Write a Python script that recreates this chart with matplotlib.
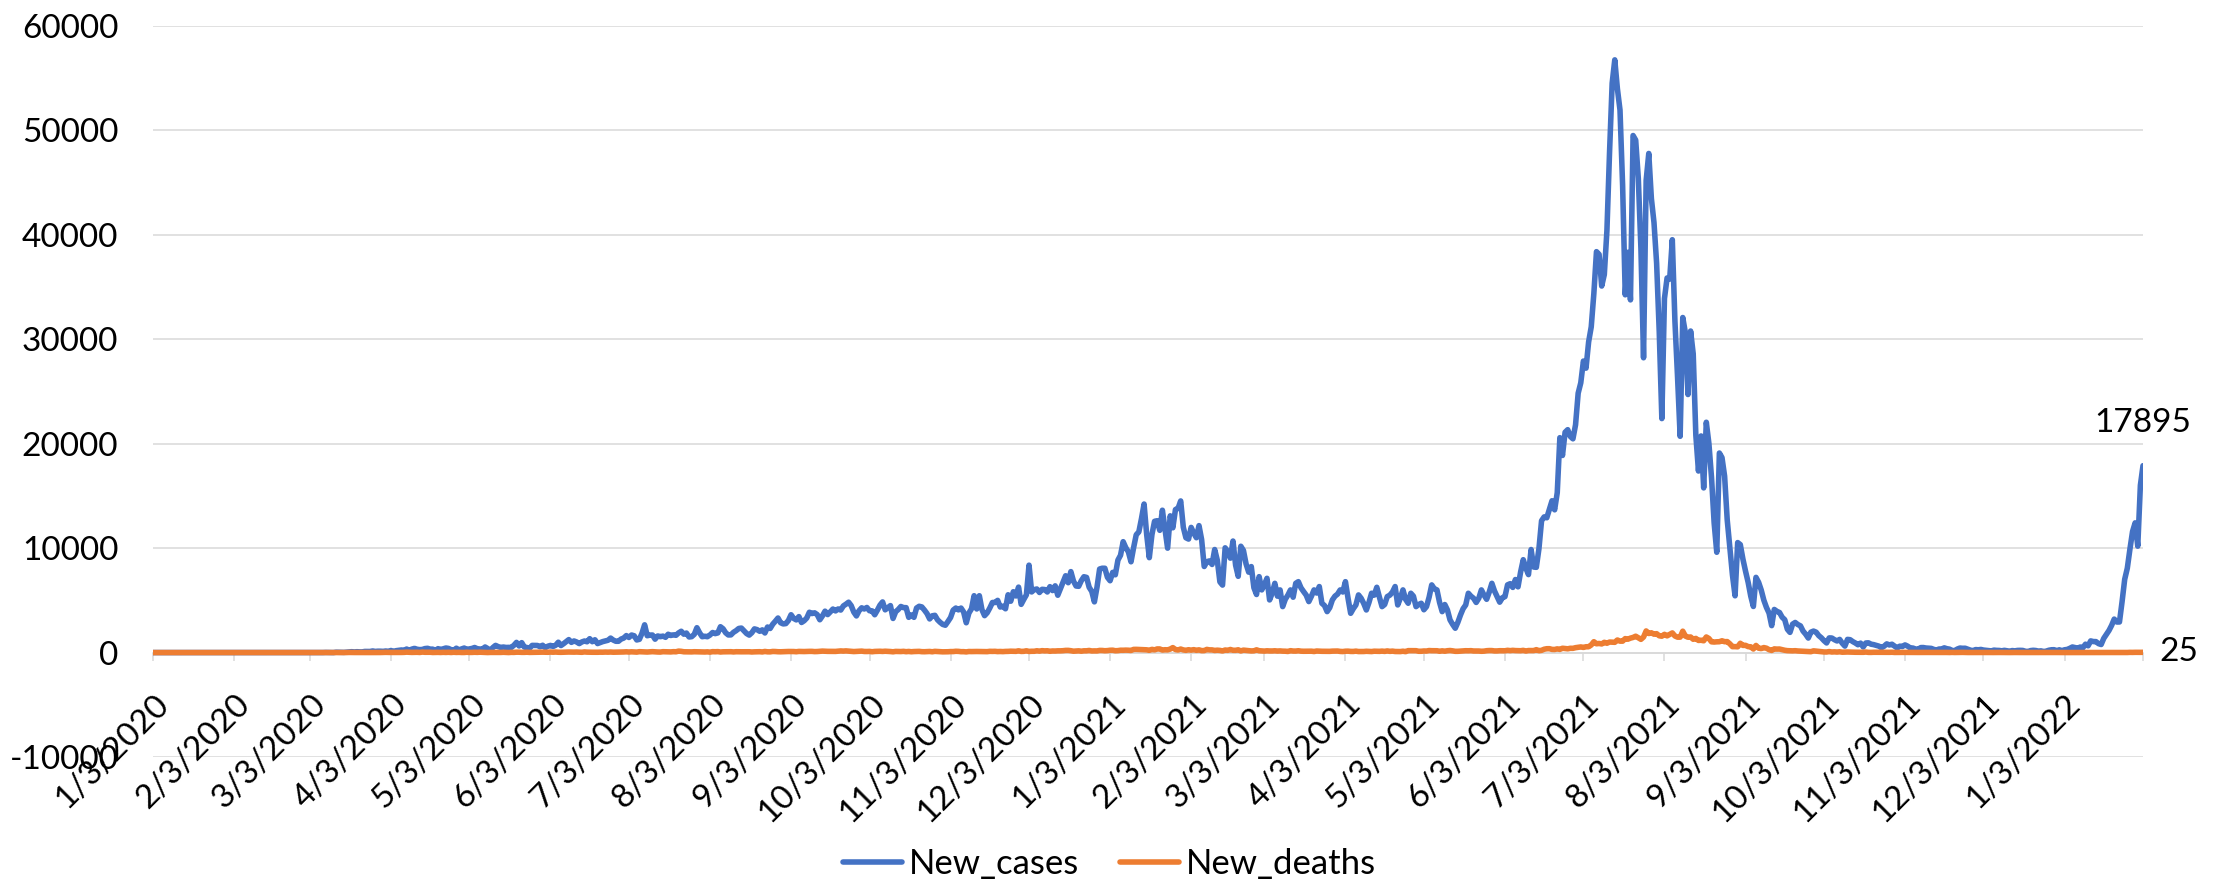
import matplotlib.pyplot as plt
import pandas as pd

# daily values, 3 Jan 2020 .. 2 Feb 2022 (one line per month)
cases_2020 = (
    [0] * 29 +  # Jan 3-31
    [0] * 29 +  # Feb
    [0, 2, 0, 0, 0, 2, 0, 2, 13, 8, 7, 0, 35, 27, 21, 17, 38, 55, 82, 60, 81, 64, 65, 107, 105, 103, 153, 109, 130, 129, 114] +
    [149, 113, 196, 106, 181, 218, 247, 218, 337, 219, 330, 399, 316, 282, 297, 380, 407, 325, 327, 185, 375, 283, 357, 436, 396, 275, 214, 415, 260, 347] +
    [433, 292, 349, 395, 484, 367, 338, 336, 533, 387, 233, 484, 689, 568, 490, 529, 489, 496, 486, 693, 973, 634, 949, 526, 479, 415, 686, 687, 678, 557, 700] +
    [467, 609, 684, 585, 703, 993, 672, 847, 1043, 1241, 979, 1111, 1014, 857, 1017, 1106, 1031, 1331, 1041, 1226, 862, 954, 1051, 1113, 1178, 1385, 1198, 1082, 1082, 1293] +
    [1385, 1624, 1447, 1681, 1607, 1209, 1268, 1853, 2657, 1611, 1671, 1681, 1282, 1591, 1522, 1574, 1462, 1752, 1639, 1693, 1655, 1882, 2040, 1761, 1868, 1492, 1525, 1748, 2381, 1904, 1519] +
    [1560, 1519, 1679, 1922, 1815, 1882, 2473, 2277, 1893, 1687, 1693, 1942, 2098, 2307, 2345, 2081, 1821, 1673, 1902, 2266, 2197, 2037, 2173, 1877, 2447, 2306, 2719, 3003, 3308, 2858, 2743] +
    [2775, 3075, 3622, 3269, 3128, 3444, 2880, 3046, 3307, 3861, 3737, 3806, 3636, 3141, 3507, 3963, 3635, 3891, 4168, 3989, 4176, 4071, 4465, 4634, 4823, 4494, 3874, 3509, 4002, 4284] +
    [4174, 4317, 4007, 3992, 3622, 4056, 4538, 4850, 4094, 4294, 4497, 3267, 3906, 4127, 4411, 4301, 4301, 3373, 3602, 3373, 4267, 4432, 4369, 4070, 3732, 3222, 3520, 3565, 3143, 2897, 2696] +
    [2618, 2973, 3356, 4065, 4262, 4089, 4262, 3880, 2853, 3779, 4192, 5444, 4173, 5444, 4106, 3535, 3807, 4265, 4798, 4792, 4998, 4360, 4442, 4192, 5534, 4917, 5828, 5418, 6267, 4617] +
    [5092, 5533, 8369, 5803, 6027, 6089, 5754, 6058, 6033, 5803, 6310, 5938, 6388, 5489, 6120, 6725, 7354, 6689, 7751, 6848, 6371, 6347, 6883, 7259, 7199, 6251, 5854, 4854, 6267, 8002, 8074]
)

cases_2021 = (
    [8072, 7203, 6877, 7679, 7445, 8854, 9321, 10617, 10046, 9640, 8692, 10047, 11278, 11557, 12818, 14224, 11287, 9086, 11287, 12568, 12624, 11703, 13632, 11788, 9994, 13094, 11948, 13695, 13802, 14518, 12001] +
    [10994, 10868, 11984, 11434, 10997, 12156, 10827, 8242, 8700, 8776, 8435, 9869, 8844, 6765, 6462, 10029, 9687, 9039, 10680, 8369, 7300, 10180, 9775, 8493, 7700, 8232, 6208, 5560] +
    [7270, 6000, 6500, 7110, 5040, 5700, 6630, 5400, 6000, 4400, 5100, 5500, 6000, 5300, 6630, 6790, 6200, 5840, 5500, 4880, 5400, 6000, 5700, 6320, 4720, 4500, 3920, 4300, 5040, 5400, 5600] +
    [6000, 5800, 6790, 5200, 3760, 4200, 4560, 5520, 5200, 4700, 4080, 4800, 5680, 5500, 6250, 5300, 4400, 4600, 5360, 5500, 5800, 6320, 4560, 5200, 6000, 5100, 4720, 5680, 5400, 4400] +
    [4600, 4720, 4100, 4400, 5300, 6480, 6100, 6000, 4800, 3920, 4600, 4080, 3130, 2700, 2330, 2900, 3600, 4200, 4560, 5680, 5400, 5200, 4800, 5200, 6000, 5500, 5100, 5800, 6630, 5900, 5360] +
    [4824, 5246, 5353, 6486, 6594, 6236, 6993, 6294, 7725, 8892, 8083, 7465, 9868, 8189, 8161, 9944, 12624, 12990, 12906, 13737, 14536, 13668, 15308, 20574, 18872, 21095, 21342, 20694, 20467, 21807] +
    [24836, 25830, 27913, 27233, 29745, 31189, 34379, 38391, 38124, 35094, 36197, 40427, 47899, 54517, 56757, 54000, 51952, 44721, 34257, 38325, 33772, 49509, 49071, 45416, 38679, 28228, 45203, 47791, 43479, 41168, 37284] +
    [30738, 22404, 33900, 35867, 35764, 39532, 31753, 26415, 20709, 32081, 30625, 24709, 30788, 28598, 20813, 17384, 20741, 15768, 22053, 20004, 16744, 12408, 9604, 19106, 18671, 16899, 12702, 10050, 7427, 5436, 10534] +
    [10337, 8955, 7797, 6727, 5403, 4413, 7201, 6731, 5990, 5020, 4323, 3779, 2577, 4128, 3948, 3835, 3385, 3145, 2234, 1932, 2720, 2881, 2684, 2557, 2057, 1760, 1390, 1954, 2057, 1954] +
    [1624, 1414, 1142, 922, 1404, 1393, 1233, 1111, 1261, 894, 620, 1261, 1233, 1053, 915, 747, 903, 535, 914, 935, 802, 760, 689, 615, 460, 610, 833, 730, 798, 617, 433] +
    [612, 582, 733, 612, 438, 433, 343, 306, 477, 480, 435, 420, 400, 305, 242, 338, 344, 450, 369, 328, 203, 176, 337, 432, 408, 413, 328, 232, 176, 286] +
    [264, 298, 241, 213, 180, 159, 233, 209, 202, 168, 213, 172, 129, 190, 163, 204, 211, 202, 128, 92, 187, 216, 196, 135, 164, 92, 139, 222, 267, 274, 173]
)

cases_2022 = (
    [265, 174, 265, 299, 404, 533, 479, 414, 529, 454, 802, 646, 1116, 1054, 1048, 855, 772, 1362, 1745, 2116, 2604, 3205, 2925, 2928, 4878, 7010, 8077, 9905, 11588, 12422, 10185] +
    [16021, 17895]
)

deaths_2020 = (
    [0] * 29 +
    [0] * 29 +
    [0, 0, 0, 0, 0, 0, 0, 0, 0, 0, 1, 0, 3, 1, 1, 0, 2, 12, 6, 6, 7, 10, 1, 6, 3, 3, 2, 9, 8, 6, 14] +
    [21, 13, 11, 10, 7, 7, 12, 19, 40, 26, 15, 20, 26, 10, 47, 27, 31, 29, 8, 12, 19, 8, 23, 12, 26, 7, 29, 13, 21, 8] +
    [8, 31, 13, 15, 28, 18, 35, 21, 10, 3, 14, 14, 16, 21, 13, 27, 12, 2, 21, 16, 36, 35, 21, 21, 34, 16, 21, 23, 27, 39, 40] +
    [32, 28, 48, 35, 49, 31, 25, 35, 41, 51, 41, 41, 50, 38, 27, 61, 41, 33, 31, 30, 29, 39, 35, 48, 38, 51, 34, 39, 46, 51] +
    [56, 71, 52, 71, 58, 43, 84, 70, 50, 51, 71, 87, 70, 54, 47, 84, 76, 65, 62, 85, 76, 139, 117, 74, 69, 67, 64, 80, 74, 74, 63] +
    [54, 68, 42, 86, 78, 90, 53, 72, 74, 73, 82, 59, 81, 74, 74, 74, 79, 77, 55, 69, 72, 82, 59, 106, 71, 68, 106, 99, 79, 74, 85] +
    [95, 103, 104, 98, 79, 110, 101, 97, 111, 115, 114, 92, 99, 118, 140, 125, 116, 111, 112, 110, 136, 157, 140, 160, 142, 115, 96, 110, 128, 139] +
    [105, 102, 112, 79, 108, 116, 124, 108, 128, 116, 99, 72, 110, 100, 97, 117, 84, 106, 78, 98, 107, 114, 85, 80, 89, 105, 75, 116, 99, 91, 70] +
    [69, 78, 95, 95, 123, 114, 85, 86, 63, 101, 95, 104, 104, 101, 100, 100, 87, 118, 111, 118, 93, 104, 91, 109, 114, 130, 118, 116, 169, 110] +
    [118, 169, 109, 124, 124, 171, 135, 181, 159, 171, 125, 152, 146, 165, 164, 178, 207, 209, 177, 130, 148, 165, 131, 167, 166, 202, 152, 160, 156, 205, 200]
)

deaths_2021 = (
    [174, 188, 220, 227, 175, 187, 224, 221, 233, 224, 200, 302, 306, 295, 282, 270, 262, 212, 308, 258, 346, 346, 240, 270, 259, 336, 476, 287, 248, 336, 253] +
    [214, 271, 230, 279, 215, 262, 185, 188, 301, 257, 254, 202, 228, 206, 154, 245, 215, 293, 218, 216, 264, 157, 233, 204, 180, 156, 166, 261] +
    [175, 153, 140, 168, 152, 151, 169, 144, 158, 136, 130, 106, 180, 144, 142, 173, 134, 124, 127, 131, 132, 100, 148, 130, 122, 123, 127, 116, 137, 141, 146] +
    [110, 97, 130, 135, 109, 106, 137, 98, 100, 101, 123, 105, 97, 130, 125, 116, 138, 111, 157, 117, 138, 102, 101, 95, 129, 87, 184, 183, 192, 179] +
    [124, 125, 151, 145, 193, 178, 176, 174, 125, 165, 130, 175, 196, 164, 120, 121, 138, 145, 176, 170, 182, 149, 152, 147, 124, 136, 177, 193, 189, 155, 156] +
    [177, 172, 171, 214, 184, 212, 189, 178, 176, 211, 145, 194, 187, 189, 276, 180, 214, 319, 367, 371, 303, 294, 355, 304, 413, 384, 358, 409, 404, 467] +
    [504, 539, 493, 555, 558, 728, 1040, 842, 871, 826, 982, 892, 1007, 991, 982, 1205, 1092, 1093, 1338, 1280, 1383, 1449, 1566, 1415, 1266, 1487, 2069, 1824, 1893, 1759, 1808] +
    [1604, 1568, 1747, 1598, 1739, 1881, 1588, 1475, 1475, 2048, 1579, 1466, 1492, 1270, 1356, 1161, 1180, 1128, 1492, 1348, 1030, 1008, 1030, 1038, 1128, 1040, 1051, 840, 566, 568, 551] +
    [890, 685, 694, 568, 551, 339, 683, 421, 379, 476, 419, 278, 204, 351, 331, 338, 276, 219, 183, 172, 163, 178, 151, 136, 129, 115, 93, 84, 164, 137] +
    [100, 77, 59, 54, 95, 53, 67, 48, 73, 35, 45, 53, 43, 39, 30, 31, 23, 25, 48, 19, 16, 28, 26, 24, 18, 22, 14, 22, 31, 12, 16] +
    [10, 17, 15, 21, 13, 13, 11, 11, 14, 18, 13, 11, 11, 11, 12, 8, 11, 16, 12, 5, 16, 7, 11, 12, 18, 11, 6, 8, 10, 8] +
    [13, 13, 9, 7, 7, 5, 6, 10, 10, 6, 9, 4, 3, 8, 9, 5, 6, 9, 6, 5, 6, 5, 6, 7, 3, 9, 9, 4, 6, 6, 8]
)

deaths_2022 = (
    [4, 3, 3, 2, 3, 3, 6, 8, 4, 3, 4, 5, 6, 8, 3, 5, 3, 6, 6, 7, 7, 8, 7, 2, 17, 17, 7, 20, 16, 23, 17] +
    [21, 25]
)

new_cases = cases_2020 + cases_2021 + cases_2022
new_deaths = deaths_2020 + deaths_2021 + deaths_2022
dates = pd.date_range('2020-01-03', periods=len(new_cases), freq='D')

y_ticks = list(range(-10000, 60001, 10000))
tick_dates = pd.date_range('2020-01-03', '2022-01-03', freq=pd.DateOffset(months=1))

plt.rcParams['font.family'] = ['Lato', 'DejaVu Sans']
plt.rcParams['axes.unicode_minus'] = False
FS = 24
GRID = '#D9D9D9'

fig = plt.figure(figsize=(22.19, 8.86), dpi=100)
ax = fig.add_axes([0.06895, 0.1456, 0.8968, 0.8251])

ax.plot(dates, new_cases, color='#4472C4', lw=4.0, solid_joinstyle='round',
        solid_capstyle='round', label='New_cases', zorder=3)
ax.plot(dates, new_deaths, color='#ED7D31', lw=4.0, solid_joinstyle='round',
        solid_capstyle='round', label='New_deaths', zorder=4)

ax.set_xlim(dates[0], dates[-1])
ax.set_ylim(-10000, 60000)
ax.set_yticks(y_ticks)
ax.yaxis.grid(True, color=GRID, lw=1.1)
ax.set_axisbelow(True)
for s in ['left', 'right', 'top']:
    ax.spines[s].set_visible(False)
ax.spines['bottom'].set_position(('data', 0))
ax.spines['bottom'].set_color(GRID)
ax.spines['bottom'].set_linewidth(1.1)
ax.tick_params(axis='y', length=0, pad=25, labelsize=FS)

ax.set_xticks(list(tick_dates) + [dates[-1]])
ax.set_xticklabels([])
ax.tick_params(axis='x', length=6, width=1.1, color=GRID, direction='out')
for d in tick_dates:
    ax.annotate(f'{d.month}/{d.day}/{d.year}', xy=(d, 0), xytext=(8, -34),
                textcoords='offset points', rotation=45, ha='right', va='center',
                rotation_mode='anchor', fontsize=FS)

# data labels on the last points
ax.annotate(f'{new_cases[-1]}', xy=(dates[-1], new_cases[-1]), xytext=(0, 20),
            textcoords='offset points', ha='center', va='bottom', fontsize=FS)
ax.annotate(f'{new_deaths[-1]}', xy=(dates[-1], new_deaths[-1]), xytext=(12, 0),
            textcoords='offset points', ha='left', va='center', fontsize=FS,
            annotation_clip=False)

fig.legend(loc='center', bbox_to_anchor=(0.5, 0.025), ncol=2, frameon=False,
           fontsize=25, handlelength=1.7, handletextpad=0.2, columnspacing=1.2)

fig.savefig('out.png', dpi=100)
